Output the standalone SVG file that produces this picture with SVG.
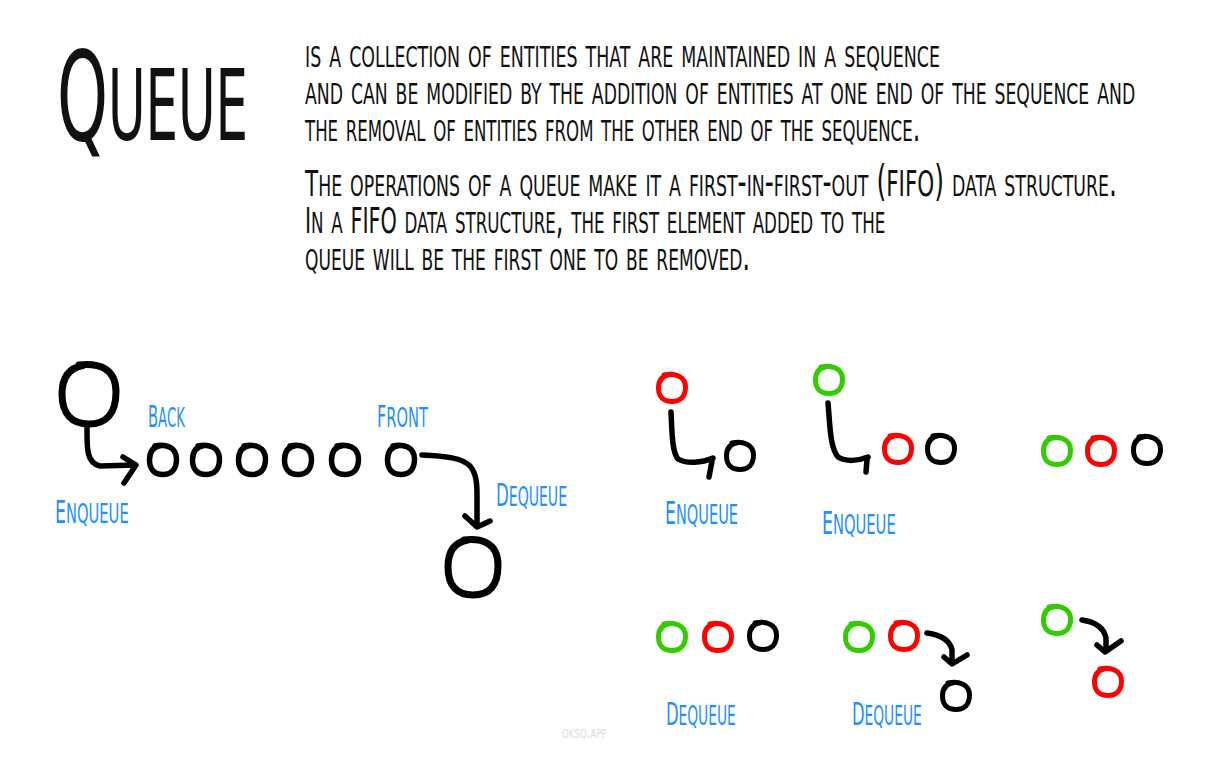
<svg xmlns="http://www.w3.org/2000/svg" xmlns:xlink="http://www.w3.org/1999/xlink" width="1207" height="769" viewBox="0 0 1207 769">
<style>
  .txt { font-family: "Liberation Sans Narrow", "DejaVu Sans Condensed", "Liberation Sans", sans-serif; font-variant: small-caps; fill: #111; }
  .body { font-size: 42px; }
  .cap { font-size: 36px; }
  .lbl { font-family: "Liberation Sans Narrow", "DejaVu Sans Condensed", "Liberation Sans", sans-serif; font-variant: small-caps; fill: #1e90ff; font-size: 38px; }
  .lc { font-size: 32px; }
  .wm { font-family: "Liberation Sans Narrow", "DejaVu Sans Condensed", sans-serif; font-variant: small-caps; fill: #dcdcdc; font-size: 18px; }
  .c { fill: none; stroke-linecap: round; stroke-linejoin: round; stroke-width: 5; }
  .cl { stroke-width: 5.5; }
  .big { fill: none; stroke: #000; stroke-linecap: round; stroke-linejoin: round; stroke-width: 7; }
  .k { stroke: #000; }
  .r { stroke: #ff0000; }
  .g { stroke: #33cc00; }
  .arr { fill: none; stroke: #000; stroke-linecap: round; stroke-linejoin: round; stroke-width: 5.5; }
</style>
<defs>
  <path id="sc" d="M-8,-13 C2,-15.5 13.5,-12 13.5,-1 C13.5,9 8,13.5 0,13.5 C-8,13.5 -13.5,9 -13.5,0 C-13.5,-8 -9,-12.5 -2,-13.5"/>
  <path id="scl" d="M-8,-14 C2,-16.5 13.5,-13 13.5,-1 C13.5,10 8,14.5 0,14.5 C-8,14.5 -13.5,10 -13.5,0 C-13.5,-9 -9,-13.5 -2,-14.5"/>
</defs>
<rect width="1207" height="769" fill="#fff"/>

<g id="title">
  <text class="txt" transform="translate(57,140) scale(0.65,1)" x="0" y="0" textLength="294" lengthAdjust="spacingAndGlyphs"><tspan font-size="124">Q</tspan><tspan font-size="140">ueue</tspan></text>
</g>

<g id="description">
  <text class="txt body" transform="translate(305,67) scale(0.7,1)" x="0" y="0" textLength="907" lengthAdjust="spacingAndGlyphs">is a collection of entities that are maintained in a sequence</text>
  <text class="txt body" transform="translate(305,104) scale(0.7,1)" x="0" y="0" textLength="1186" lengthAdjust="spacingAndGlyphs">and can be modified by the addition of entities at one end of the sequence and</text>
  <text class="txt body" transform="translate(305,141) scale(0.7,1)" x="0" y="0" textLength="879" lengthAdjust="spacingAndGlyphs">the removal of entities from the other end of the sequence.</text>
  <text class="txt body" transform="translate(305,196) scale(0.7,1)" x="0" y="0" textLength="1160" lengthAdjust="spacingAndGlyphs"><tspan class="cap">T</tspan>he operations of a queue make it a first-in-first-out (<tspan class="cap">FIFO</tspan>) data structure.</text>
  <text class="txt body" transform="translate(305,233) scale(0.7,1)" x="0" y="0" textLength="829" lengthAdjust="spacingAndGlyphs"><tspan class="cap">I</tspan>n a <tspan class="cap">FIFO</tspan> data structure, the first element added to the</text>
  <text class="txt body" transform="translate(305,270) scale(0.7,1)" x="0" y="0" textLength="636" lengthAdjust="spacingAndGlyphs">queue will be the first one to be removed.</text>
</g>

<g id="connectors">
  <path class="arr" d="M87,428 C87,447 86,463 100,466 L135,465"/>
  <path class="arr" d="M123,457 L136,465 L124,483"/>
  <path class="arr" d="M422,455 C446,456 462,458 470,466 C477,474 477,486 477,496 L477,526"/>
  <path class="arr" d="M465,516 L477,527 L490,521"/>
  <path class="arr" stroke-width="5" d="M671,412 C672,432 672,452 678,459 C686,464 702,463 713,458"/>
  <path class="arr" stroke-width="5" d="M712,461 L709,477"/>
  <path class="arr" stroke-width="5" d="M828,403 C830,425 830,448 838,457 C846,462 858,461 868,457"/>
  <path class="arr" stroke-width="5" d="M867,460 L866,472"/>
  <path class="arr" stroke-width="5" d="M927,633 C941,635 950,640 952,650 L952,663"/>
  <path class="arr" stroke-width="5" d="M944,657 L952,664 L967,655"/>
  <path class="arr" stroke-width="5" d="M1082,620 C1095,622 1104,628 1106,638 L1106,651"/>
  <path class="arr" stroke-width="5" d="M1097,645 L1105,652 L1121,641"/>
</g>

<g id="enqueue-item">
  <path class="big" transform="translate(89,394)" d="M-10,-29 C10,-31 27,-26 27,-2 C27,20 17,30 0,30 C-17,30 -27,20 -27,0 C-27,-17 -20,-26 -6,-28.5"/>
</g>
<g id="dequeued-item">
  <path class="big" transform="translate(473,567)" d="M-9,-27 C9,-29 25,-24 25,-2 C25,19 16,28 0,28 C-16,28 -25,19 -25,0 C-25,-16 -18,-25 -5,-27"/>
</g>
<g id="queue-row">
  <use href="#scl" class="c cl k" x="163" y="460"/>
  <use href="#scl" class="c cl k" x="206" y="460"/>
  <use href="#scl" class="c cl k" x="252" y="460"/>
  <use href="#scl" class="c cl k" x="298" y="460"/>
  <use href="#scl" class="c cl k" x="345" y="460"/>
  <use href="#scl" class="c cl k" x="401" y="460"/>
</g>

<g id="step1">
  <use href="#sc" class="c r" x="672" y="388"/>
  <use href="#sc" class="c k" x="740" y="456"/>
</g>
<g id="step2">
  <use href="#sc" class="c g" x="829" y="380"/>
  <use href="#sc" class="c r" x="898" y="449"/>
  <use href="#sc" class="c k" x="941" y="449"/>
</g>
<g id="step3">
  <use href="#sc" class="c g" x="1057" y="451"/>
  <use href="#sc" class="c r" x="1101" y="451"/>
  <use href="#sc" class="c k" x="1147" y="450"/>
</g>
<g id="step4">
  <use href="#sc" class="c g" x="672" y="637"/>
  <use href="#sc" class="c r" x="718" y="637"/>
  <use href="#sc" class="c k" x="763" y="636"/>
</g>
<g id="step5">
  <use href="#sc" class="c g" x="859" y="637"/>
  <use href="#sc" class="c r" x="904" y="636"/>
  <use href="#sc" class="c k" x="956" y="696"/>
</g>
<g id="step6">
  <use href="#sc" class="c g" x="1057" y="620"/>
  <use href="#sc" class="c r" x="1108" y="682"/>
</g>

<g id="labels">
  <text class="lbl" transform="translate(148,427) scale(0.67,1)" x="0" y="0" font-size="34" textLength="55" lengthAdjust="spacingAndGlyphs"><tspan font-size="30">B</tspan>ack</text>
  <text class="lbl" transform="translate(377,427) scale(0.67,1)" x="0" y="0" font-size="34" textLength="76" lengthAdjust="spacingAndGlyphs"><tspan font-size="30">F</tspan>ront</text>
  <text class="lbl" transform="translate(55,523) scale(0.67,1)" x="0" y="0" textLength="110" lengthAdjust="spacingAndGlyphs"><tspan class="lc">E</tspan>nqueue</text>
  <text class="lbl" transform="translate(496,506) scale(0.67,1)" x="0" y="0" textLength="106" lengthAdjust="spacingAndGlyphs"><tspan class="lc">D</tspan>equeue</text>
  <text class="lbl" transform="translate(665,524) scale(0.67,1)" x="0" y="0" textLength="109" lengthAdjust="spacingAndGlyphs"><tspan class="lc">E</tspan>nqueue</text>
  <text class="lbl" transform="translate(822,534) scale(0.67,1)" x="0" y="0" textLength="110" lengthAdjust="spacingAndGlyphs"><tspan class="lc">E</tspan>nqueue</text>
  <text class="lbl" transform="translate(666,725) scale(0.67,1)" x="0" y="0" textLength="104" lengthAdjust="spacingAndGlyphs"><tspan class="lc">D</tspan>equeue</text>
  <text class="lbl" transform="translate(852,725) scale(0.67,1)" x="0" y="0" textLength="104" lengthAdjust="spacingAndGlyphs"><tspan class="lc">D</tspan>equeue</text>
</g>

<g id="watermark">
  <text class="wm" transform="translate(562,738) scale(0.83,1)" x="0" y="0" textLength="54" lengthAdjust="spacingAndGlyphs">okso.app</text>
</g>
</svg>
